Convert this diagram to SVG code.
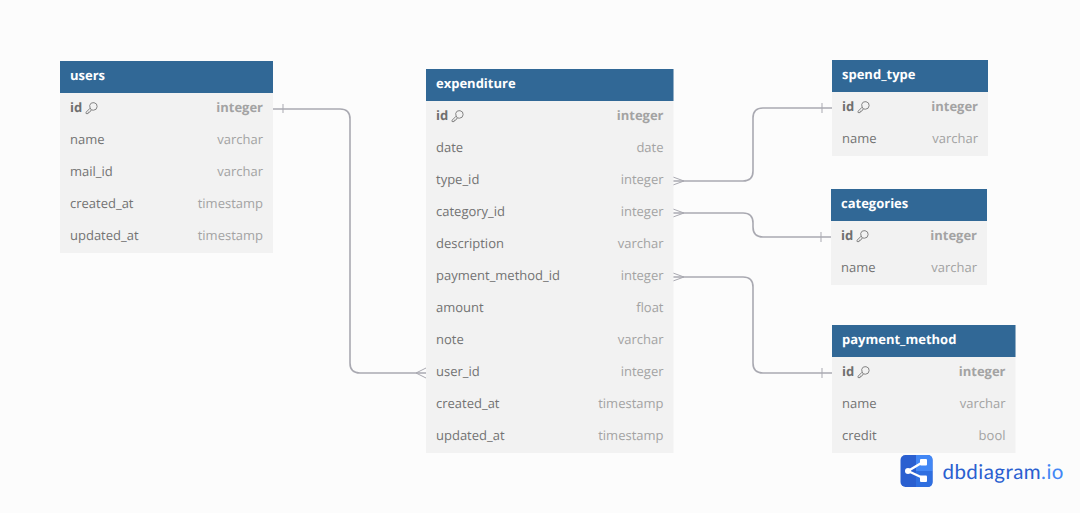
<svg xmlns="http://www.w3.org/2000/svg" width="1080" height="513" viewBox="0 0 1080 513">
<style>
text{font-family:"Open Sans","Noto Sans",sans-serif;font-size:13px;text-rendering:geometricPrecision}
.bg{fill:#f2f2f2}.hd{fill:#316896}
.t{fill:#fff;font-weight:700}
.n{fill:#737373}.k{fill:#6f6f6f;font-weight:700}
.y{fill:#a3a3a3;text-anchor:end}.yk{fill:#a3a3a3;text-anchor:end;font-weight:700}
.c{fill:none;stroke:#a9a9b1;stroke-width:1.6}
.m{fill:none;stroke:#a9a9b1;stroke-width:1}
.key{fill:none;stroke:#777;stroke-width:.9}
</style>
<defs>
<g id="key"><path d="M4.200 3.300A3.800 3.800 0 1 1 8 8.200L5.800 7.900L4.600 6Z" class="key"/><path d="M4.600 6.200L0.600 10.200V11.600H2.600L3 10.200H4.200L5.800 7.900" class="key"/></g>
</defs>
<rect width="1080" height="513" fill="#fcfcfc"/>
<g id="connectors">
<path class="c" d="M273 109H340Q350 109 350 119V363Q350 373 360 373H426"/>
<path class="m" d="M283 104V113M426 368L416 373L426 378"/>
<path class="c" d="M673 181H743Q753 181 753 171V118Q753 108 763 108H832"/>
<path class="m" d="M822 103V113M673 177L684 181L673 185"/>
<path class="c" d="M673 213H743Q753 213 753 223V227Q753 237 763 237H831"/>
<path class="m" d="M821 232V242M673 209L684 213L673 217"/>
<path class="c" d="M673 277H743Q753 277 753 287V363Q753 373 763 373H832"/>
<path class="m" d="M822 368V378M673 273L684 277L673 281"/>
</g>
<g id="users">
<rect class="bg" x="60" y="61" width="213" height="192"/><rect class="hd" x="60" y="61" width="213" height="32"/>
<text class="t" x="70" y="80">users</text>
<text class="k" x="70" y="112">id</text><use href="#key" x="85.500" y="102"/><text class="yk" x="263" y="112">integer</text>
<text class="n" x="70" y="144">name</text><text class="y" x="263" y="144">varchar</text>
<text class="n" x="70" y="176">mail_id</text><text class="y" x="263" y="176">varchar</text>
<text class="n" x="70" y="208">created_at</text><text class="y" x="263" y="208">timestamp</text>
<text class="n" x="70" y="240">updated_at</text><text class="y" x="263" y="240">timestamp</text>
</g>
<g id="expenditure">
<rect class="bg" x="426" y="69" width="247.500" height="384"/><rect class="hd" x="426" y="69" width="247.500" height="32"/>
<text class="t" x="436" y="88">expenditure</text>
<text class="k" x="436" y="120">id</text><use href="#key" x="451.500" y="110"/><text class="yk" x="663.500" y="120">integer</text>
<text class="n" x="436" y="152">date</text><text class="y" x="663.500" y="152">date</text>
<text class="n" x="436" y="184">type_id</text><text class="y" x="663.500" y="184">integer</text>
<text class="n" x="436" y="216">category_id</text><text class="y" x="663.500" y="216">integer</text>
<text class="n" x="436" y="248">description</text><text class="y" x="663.500" y="248">varchar</text>
<text class="n" x="436" y="280">payment_method_id</text><text class="y" x="663.500" y="280">integer</text>
<text class="n" x="436" y="312">amount</text><text class="y" x="663.500" y="312">float</text>
<text class="n" x="436" y="344">note</text><text class="y" x="663.500" y="344">varchar</text>
<text class="n" x="436" y="376">user_id</text><text class="y" x="663.500" y="376">integer</text>
<text class="n" x="436" y="408">created_at</text><text class="y" x="663.500" y="408">timestamp</text>
<text class="n" x="436" y="440">updated_at</text><text class="y" x="663.500" y="440">timestamp</text>
</g>
<g id="spend_type">
<rect class="bg" x="832" y="60" width="156" height="96"/><rect class="hd" x="832" y="60" width="156" height="32"/>
<text class="t" x="842" y="79">spend_type</text>
<text class="k" x="842" y="111">id</text><use href="#key" x="857.500" y="101"/><text class="yk" x="978" y="111">integer</text>
<text class="n" x="842" y="143">name</text><text class="y" x="978" y="143">varchar</text>
</g>
<g id="categories">
<rect class="bg" x="831" y="189" width="156" height="96"/><rect class="hd" x="831" y="189" width="156" height="32"/>
<text class="t" x="841" y="208">categories</text>
<text class="k" x="841" y="240">id</text><use href="#key" x="856.500" y="230"/><text class="yk" x="977" y="240">integer</text>
<text class="n" x="841" y="272">name</text><text class="y" x="977" y="272">varchar</text>
</g>
<g id="payment_method">
<rect class="bg" x="832" y="325" width="183.500" height="128"/><rect class="hd" x="832" y="325" width="183.500" height="32"/>
<text class="t" x="842" y="344">payment_method</text>
<text class="k" x="842" y="376">id</text><use href="#key" x="857.500" y="366"/><text class="yk" x="1005.500" y="376">integer</text>
<text class="n" x="842" y="408">name</text><text class="y" x="1005.500" y="408">varchar</text>
<text class="n" x="842" y="440">credit</text><text class="y" x="1005.500" y="440">bool</text>
</g>
<g id="logo">
<rect x="900.500" y="455" width="32" height="32" rx="5" fill="#2a5fd0"/>
<path d="M916 455H927.500Q932.500 455 932.500 460V471H916Z" fill="#4287f5"/>
<path d="M916 471H932.500V482Q932.500 487 927.500 487H916Z" fill="#2f6fe0"/>
<path d="M908 471L923 462M908 471L923 478" fill="none" stroke="#fff" stroke-width="2.400"/>
<circle cx="908" cy="471" r="3" fill="#fff"/>
<rect x="920" y="459" width="7" height="6.500" rx="1" fill="#fff"/><rect x="920" y="475.500" width="7" height="6.500" rx="1" fill="#fff"/>
<text x="942.500" y="479" style="font-family:Lato,'Noto Sans',sans-serif;font-size:20.500px;letter-spacing:.45px" fill="#2a5fd0">dbdiagram<tspan fill="#4287f5">.io</tspan></text>
</g>
</svg>
